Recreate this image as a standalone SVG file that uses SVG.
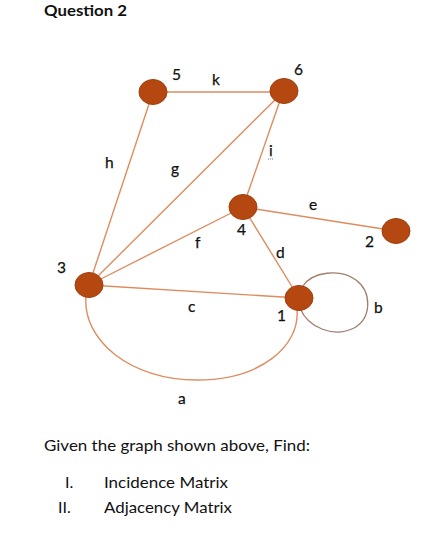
<svg xmlns="http://www.w3.org/2000/svg" width="429" height="547" viewBox="0 0 429 547">
<style>
.e{stroke:#dc8d60;stroke-width:1.4;fill:none}
.loop{stroke:#a07f6e;stroke-width:1.3;fill:none}
.n{fill:#b54810;stroke:#a13f0e;stroke-width:1}
.t{font-family:Lato,"Open Sans","Liberation Sans",sans-serif;fill:#111;font-size:15.5px;stroke:#111;stroke-width:0.25}
.txt{font-family:Lato,"Open Sans","Liberation Sans",sans-serif;fill:#111;font-size:16px}
</style>
<rect width="429" height="547" fill="#fff"/>
<text class="txt" x="44" y="15.5" font-size="15" font-weight="bold" textLength="83" lengthAdjust="spacingAndGlyphs" fill="#1a1f2a">Question 2</text>
<g id="connectors">
<line id="k" class="e" x1="153" y1="92" x2="283" y2="92"/>
<line id="h" class="e" x1="153" y1="92" x2="89" y2="285"/>
<line id="g" class="e" x1="283" y1="92" x2="89" y2="285"/>
<line id="i" class="e" x1="283" y1="92" x2="243" y2="207"/>
<line id="e" class="e" x1="243" y1="207" x2="396" y2="231"/>
<line id="f" class="e" x1="243" y1="207" x2="89" y2="285"/>
<line id="d" class="e" x1="243" y1="207" x2="299" y2="298"/>
<line id="c" class="e" x1="89" y1="285" x2="299" y2="298"/>
<path id="a" class="e" d="M86 296 C82 340 130 380 197 380 C262 380 300 345 297 310"/>
<path id="b" class="loop" d="M303 286 C312 272 340 268 356 280 C372 292 372 318 354 328 C334 338 308 328 300 308"/>
</g>
<g id="node5"><ellipse class="n" cx="153" cy="92" rx="14" ry="12.5"/><text class="t" x="172" y="80">5</text></g>
<g id="node6"><ellipse class="n" cx="284" cy="91" rx="14" ry="12.5"/><text class="t" x="294" y="75">6</text></g>
<g id="node4"><ellipse class="n" cx="243" cy="207" rx="14" ry="12.5"/><text class="t" x="237" y="235">4</text></g>
<g id="node2"><ellipse class="n" cx="396" cy="231" rx="14" ry="12.5"/><text class="t" x="365" y="247">2</text></g>
<g id="node3"><ellipse class="n" cx="89" cy="285" rx="14" ry="12.5"/><text class="t" x="57" y="273">3</text></g>
<g id="node1"><ellipse class="n" cx="299" cy="298" rx="14" ry="12.5"/><text class="t" x="277" y="321">1</text></g>
<g id="labels">
<text class="t" x="212" y="85">k</text>
<text class="t" x="105" y="168">h</text>
<text class="t" x="171" y="174">g</text>
<text class="t" x="269" y="156">i</text>
<line x1="268" y1="159" x2="274" y2="159" stroke="#5a6bd8" stroke-width="1" stroke-dasharray="1,1"/>
<text class="t" x="309" y="210">e</text>
<text class="t" x="195" y="248">f</text>
<text class="t" x="276" y="258">d</text>
<text class="t" x="188" y="312">c</text>
<text class="t" x="374" y="313">b</text>
<text class="t" x="178" y="404">a</text>
</g>
<text class="txt" x="44" y="451" textLength="266" lengthAdjust="spacingAndGlyphs">Given the graph shown above, Find:</text>
<text class="txt" x="65" y="488">I.</text>
<text class="txt" x="104" y="488" textLength="124" lengthAdjust="spacingAndGlyphs">Incidence Matrix</text>
<text class="txt" x="58" y="513">II.</text>
<text class="txt" x="104" y="513" textLength="128" lengthAdjust="spacingAndGlyphs">Adjacency Matrix</text>
</svg>
